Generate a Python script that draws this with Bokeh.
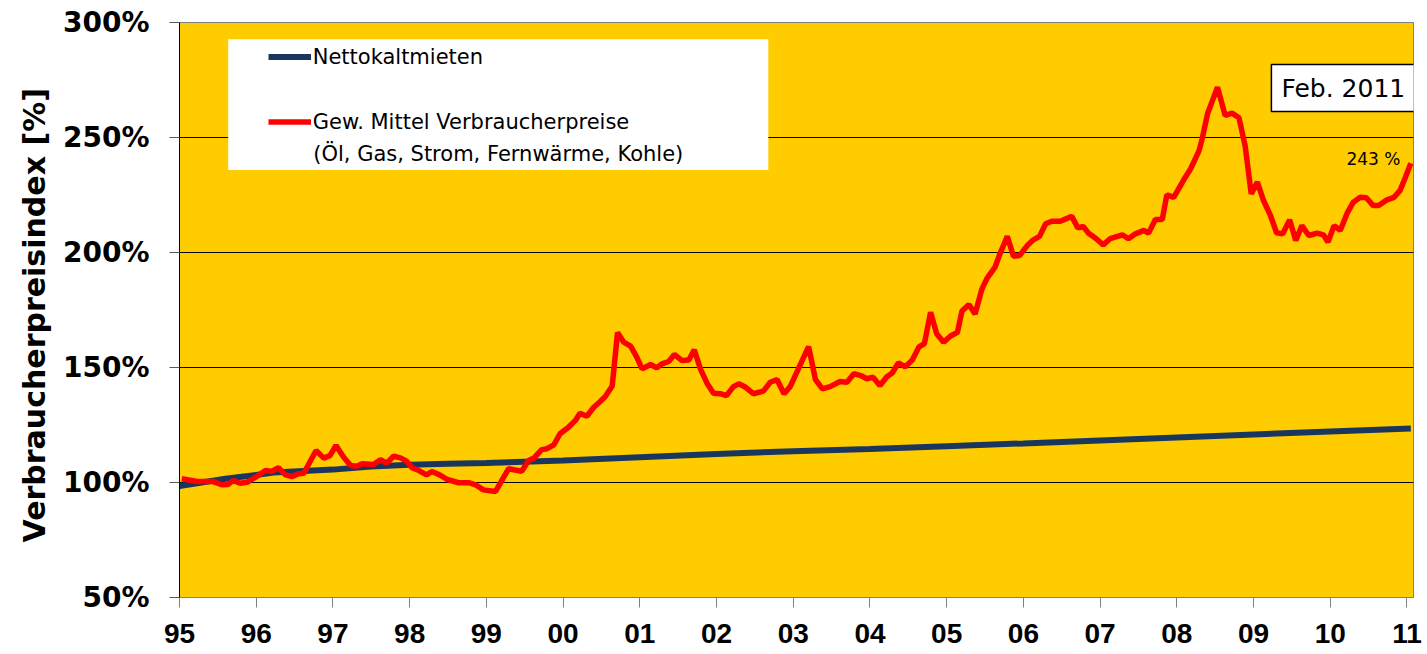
from bokeh.plotting import figure
from bokeh.models import (Range1d, FixedTicker, PrintfTickFormatter, Legend, LegendItem,
                          Label, BoxAnnotation)
from bokeh.embed import file_html
from bokeh.resources import INLINE

# ---------------- data ----------------
x_ticks = [1995, 1996, 1997, 1998, 1999, 2000, 2001, 2002, 2003, 2004, 2005, 2006, 2007, 2008, 2009, 2010, 2011]
x_labels = ["95", "96", "97", "98", "99", "00", "01", "02", "03", "04", "05", "06", "07", "08", "09", "10", "11"]
y_ticks = [50, 100, 150, 200, 250, 300]

blue_name = "Nettokaltmieten"
blue_year = [1995.0, 1995.6, 1996.23, 1997.0, 1997.5, 1998.0, 1998.5, 1999.0, 2000.0, 2001.0, 2002.0,
             2003.0, 2004.0, 2005.0, 2006.0, 2007.0, 2008.0, 2009.0, 2010.0, 2011.05]
blue_val = [98.5, 101.6, 104.3, 105.6, 107.0, 107.7, 108.1, 108.5, 109.6, 111.0, 112.4,
            113.6, 114.6, 115.8, 117.0, 118.3, 119.6, 120.9, 122.2, 123.5]

red_name = "Gew. Mittel Verbraucherpreise"
red_name2 = "(Öl, Gas, Strom, Fernwärme, Kohle)"
red_year = [1995.03, 1995.23, 1995.44, 1995.55, 1995.63, 1995.70, 1995.79, 1995.88, 1996.01, 1996.12,
            1996.20, 1996.29, 1996.38, 1996.47, 1996.55, 1996.62, 1996.78, 1996.88, 1996.96, 1997.04,
            1997.14, 1997.23, 1997.31, 1997.38, 1997.53, 1997.62, 1997.70, 1997.79, 1997.88, 1997.96,
            1998.03, 1998.12, 1998.22, 1998.29, 1998.38, 1998.49, 1998.64, 1998.77, 1998.86, 1998.96,
            1999.12, 1999.29, 1999.46, 1999.55, 1999.62, 1999.72, 1999.79, 1999.88, 1999.96, 2000.07,
            2000.16, 2000.22, 2000.31, 2000.40, 2000.48, 2000.55, 2000.64, 2000.71, 2000.79, 2000.88,
            2000.96, 2001.03, 2001.14, 2001.22, 2001.29, 2001.38, 2001.45, 2001.55, 2001.64, 2001.71,
            2001.79, 2001.88, 2001.96, 2002.05, 2002.13, 2002.22, 2002.29, 2002.38, 2002.48, 2002.61,
            2002.70, 2002.79, 2002.88, 2002.96, 2003.20, 2003.29, 2003.38, 2003.48, 2003.61, 2003.70,
            2003.79, 2003.88, 2003.96, 2004.04, 2004.13, 2004.22, 2004.29, 2004.37, 2004.46, 2004.55,
            2004.64, 2004.71, 2004.79, 2004.87, 2004.96, 2005.05, 2005.14, 2005.20, 2005.29, 2005.37,
            2005.46, 2005.53, 2005.63, 2005.69, 2005.79, 2005.87, 2005.95, 2006.05, 2006.13, 2006.21,
            2006.29, 2006.37, 2006.48, 2006.63, 2006.71, 2006.78, 2006.85, 2006.95, 2007.04, 2007.13,
            2007.29, 2007.37, 2007.46, 2007.57, 2007.63, 2007.72, 2007.81, 2007.87, 2007.96, 2008.09,
            2008.18, 2008.29, 2008.33, 2008.40, 2008.53, 2008.63, 2008.72, 2008.81, 2008.89, 2008.97,
            2009.05, 2009.13, 2009.22, 2009.30, 2009.38, 2009.47, 2009.55, 2009.63, 2009.72, 2009.83,
            2009.91, 2009.97, 2010.05, 2010.13, 2010.22, 2010.30, 2010.39, 2010.47, 2010.56, 2010.63,
            2010.74, 2010.83, 2010.91, 2010.98, 2011.05]
red_val = [101.6, 100.4, 100.4, 99.0, 99.1, 100.9, 99.7, 100.1, 102.7, 105.2,
           104.8, 106.4, 103.3, 102.6, 103.8, 104.0, 113.9, 110.6, 111.7, 116.1,
           111.0, 107.4, 107.1, 108.1, 107.8, 109.9, 108.4, 111.4, 110.7, 109.3,
           106.4, 105.2, 103.3, 104.8, 103.5, 101.3, 99.9, 99.9, 99.0, 96.8,
           96.1, 106.0, 104.9, 109.6, 110.6, 114.3, 114.7, 116.4, 121.2, 124.0,
           127.0, 130.1, 128.8, 132.7, 135.1, 137.4, 142.0, 165.2, 161.0, 159.3,
           154.5, 149.4, 151.3, 149.9, 151.6, 152.7, 155.7, 153.0, 153.3, 157.7,
           149.4, 142.9, 138.8, 138.6, 137.8, 141.7, 142.9, 141.4, 138.6, 139.7,
           143.6, 144.7, 138.6, 141.7, 159.1, 144.7, 140.7, 141.7, 143.9, 143.6,
           147.3, 146.5, 145.1, 145.8, 142.2, 146.0, 147.6, 152.0, 150.3, 153.2,
           159.0, 160.4, 174.0, 164.7, 161.0, 163.7, 165.3, 174.6, 177.4, 173.3,
           184.2, 189.0, 193.6, 199.1, 207.0, 198.4, 198.7, 203.0, 205.5, 207.0,
           212.5, 213.6, 213.6, 215.7, 210.7, 211.3, 208.4, 206.0, 203.3, 206.0,
           207.7, 206.0, 208.1, 209.6, 208.4, 214.3, 214.3, 225.1, 224.0, 231.6,
           236.4, 244.3, 249.4, 260.3, 271.9, 259.6, 260.6, 258.6, 246.5, 225.5,
           230.6, 222.6, 216.1, 208.6, 208.1, 214.2, 205.2, 211.7, 207.4, 208.4,
           207.7, 204.5, 211.7, 209.6, 217.1, 221.9, 224.0, 223.8, 220.4, 220.4,
           222.9, 224.0, 227.0, 232.7, 238.8]

end_label = "243 %"
date_label = "Feb. 2011"

# ---------------- figure ----------------
p = figure(width=1427, height=654, output_backend="svg", toolbar_location=None,
           x_range=Range1d(1995, 2011.085), y_range=Range1d(50, 300),
           min_border_left=179, min_border_right=14, min_border_top=22, min_border_bottom=57,
           background_fill_color="#FFCC00", border_fill_color="white")

p.outline_line_color = "#808080"
p.xgrid.visible = False
p.ygrid.ticker = FixedTicker(ticks=[100, 150, 200, 250])
p.ygrid.grid_line_color = "black"
p.ygrid.grid_line_width = 1

# y axis
p.yaxis.ticker = FixedTicker(ticks=y_ticks)
p.yaxis.formatter = PrintfTickFormatter(format="%d%%")
p.yaxis.major_label_text_font = "DejaVu Sans"
p.yaxis.major_label_text_font_style = "bold"
p.yaxis.major_label_text_font_size = "28px"
p.yaxis.major_label_text_color = "black"
p.yaxis.major_label_standoff = 20
p.yaxis.major_tick_out = 10
p.yaxis.major_tick_in = 0
p.yaxis.minor_tick_line_color = None
p.yaxis.axis_line_color = "black"
p.yaxis.major_tick_line_color = "#595959"
p.yaxis.axis_label = "Verbraucherpreisindex  [%]"
p.yaxis.axis_label_text_font = "DejaVu Sans"
p.yaxis.axis_label_text_font_style = "bold"
p.yaxis.axis_label_text_font_size = "30px"
p.yaxis.axis_label_text_color = "black"
p.yaxis.axis_label_standoff = 8

# x axis
p.xaxis.ticker = FixedTicker(ticks=x_ticks)
p.xaxis.major_label_overrides = {t: l for t, l in zip(x_ticks, x_labels)}
p.xaxis.major_label_text_font = "Liberation Sans"
p.xaxis.major_label_text_font_style = "bold"
p.xaxis.major_label_text_font_size = "28px"
p.xaxis.major_label_text_color = "black"
p.xaxis.major_label_standoff = 16
p.xaxis.major_tick_out = 10
p.xaxis.major_tick_in = 0
p.xaxis.minor_tick_line_color = None
p.xaxis.axis_line_color = "#808080"
p.xaxis.major_tick_line_color = "#808080"

# series
rb = p.line(blue_year, blue_val, line_color="#1B365D", line_width=6)
rr = p.line(red_year, red_val, line_color="#FF0000", line_width=5.5)

# legend box background
p.add_layout(BoxAnnotation(left=1995.635, right=2002.675, bottom=235.9, top=292.7,
                           fill_color="white", fill_alpha=1.0, line_alpha=0))

legend = Legend(items=[LegendItem(label=blue_name, renderers=[rb]),
                       LegendItem(label=red_name, renderers=[rr])],
                location=(88.7, 463), orientation="vertical", padding=0, margin=0,
                spacing=40, glyph_width=43, glyph_height=25, label_height=25,
                label_standoff=2, background_fill_alpha=0, border_line_alpha=0,
                label_text_font="DejaVu Sans", label_text_font_size="21px",
                label_text_color="black")
p.add_layout(legend)

p.add_layout(Label(x=1996.743, y=242.8, text=red_name2, text_baseline="middle",
                   text_align="left", text_font="DejaVu Sans", text_font_size="21px",
                   text_color="black"))

p.add_layout(Label(x=2010.17, y=271.5, text=date_label, text_align="center",
                   text_baseline="middle", text_font="DejaVu Sans", text_font_size="25px",
                   text_color="black", background_fill_color="white",
                   border_line_color="black", border_line_width=1.5, padding=(10, 9)))

p.add_layout(Label(x=2010.563, y=240.6, text=end_label, text_align="center",
                   text_baseline="middle", text_font="DejaVu Sans", text_font_size="17px",
                   text_color="black"))

open("out.html", "w").write(file_html(p, INLINE))
